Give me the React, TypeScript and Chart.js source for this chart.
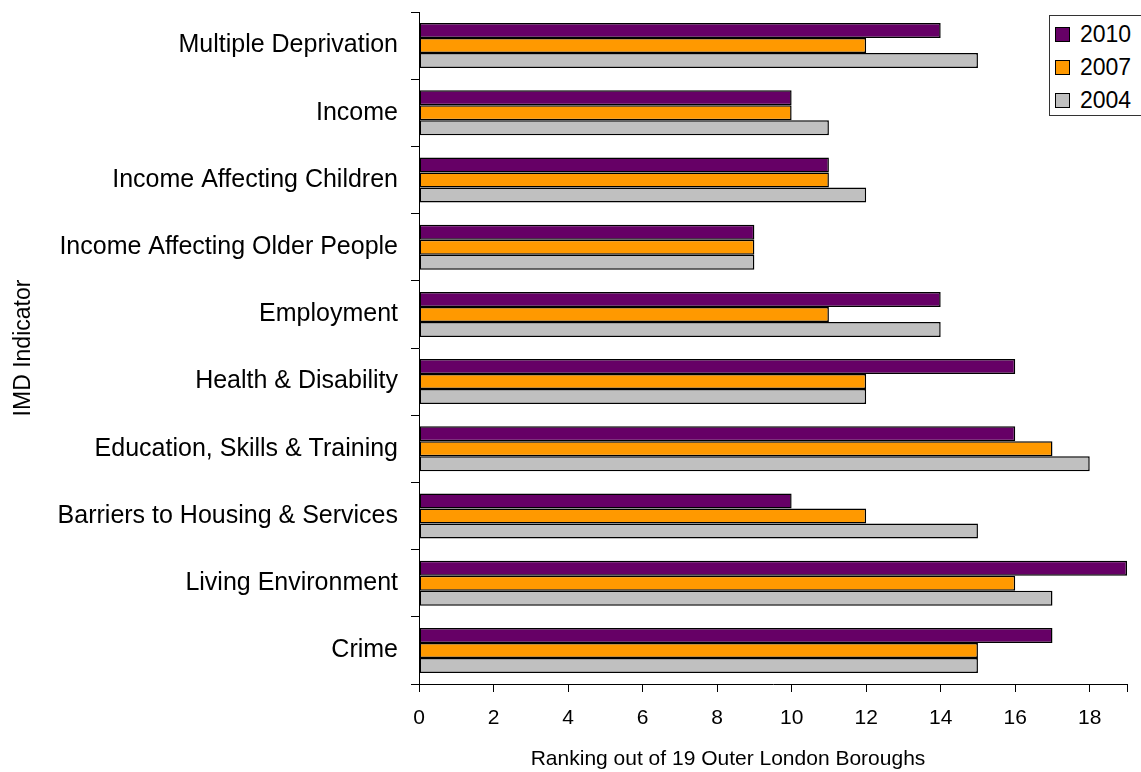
import React, { useEffect, useRef } from "react";
import { Chart, registerables } from "chart.js";

Chart.register(...registerables);

const categories = [
  "Multiple Deprivation",
  "Income",
  "Income Affecting Children",
  "Income Affecting Older People",
  "Employment",
  "Health & Disability",
  "Education, Skills & Training",
  "Barriers to Housing & Services",
  "Living Environment",
  "Crime",
];
const series2010 = [14, 10, 11, 9, 14, 16, 16, 10, 19, 17];
const series2007 = [12, 10, 11, 9, 11, 12, 17, 12, 16, 15];
const series2004 = [15, 11, 12, 9, 14, 12, 18, 15, 17, 15];
const seriesLabels = ["2010", "2007", "2004"];
const seriesColors = ["#660066", "#FF9900", "#C0C0C0"];
const xTitle = "Ranking out of 19 Outer London Boroughs";
const yTitle = "IMD Indicator";

const FONT = "'Liberation Sans', Arial, sans-serif";

const xTitlePlugin = {
  id: "xTitlePlugin",
  afterDraw(chart: any) {
    const ctx = chart.ctx;
    ctx.save();
    ctx.fillStyle = "#000";
    ctx.font = `21px ${FONT}`;
    ctx.textAlign = "center";
    ctx.textBaseline = "middle";
    ctx.fillText(xTitle, 728, 759);
    ctx.restore();
  },
};

export default function App() {
  const ref = useRef<HTMLCanvasElement | null>(null);
  useEffect(() => {
    if (!ref.current) return;
    const values = [series2010, series2007, series2004];
    const chart = new Chart(ref.current, {
      type: "bar",
      data: {
        labels: categories,
        datasets: values.map((v, i) => ({
          label: seriesLabels[i],
          data: v,
          backgroundColor: seriesColors[i],
          borderColor: "#000000",
          borderWidth: 1.5,
          borderSkipped: false,
          categoryPercentage: 0.67,
          barPercentage: 1.0,
        })),
      },
      plugins: [xTitlePlugin],
      options: {
        indexAxis: "y",
        responsive: false,
        animation: false,
        layout: { padding: { left: 0, top: 12, right: 14, bottom: 0 } },
        plugins: { legend: { display: false }, tooltip: { enabled: false } },
        scales: {
          x: {
            min: 0,
            max: 19,
            afterFit: (s: any) => {
              s.height = 88;
              s.paddingLeft = 0;
              s.paddingRight = 0;
            },
            ticks: {
              stepSize: 2,
              color: "#000",
              padding: 14,
              font: { family: FONT, size: 21 },
              callback: (v: any) => (Number(v) <= 18 ? String(v) : ""),
            },
            grid: {
              drawOnChartArea: false,
              tickLength: 8,
              color: "#000",
            },
            border: { color: "#000", width: 1 },
          },
          y: {
            afterFit: (s: any) => {
              s.width = 419;
              s.paddingTop = 0;
              s.paddingBottom = 0;
            },
            ticks: {
              color: "#000",
              padding: 13,
              font: { family: FONT, size: 25 },
            },
            grid: {
              drawOnChartArea: false,
              tickLength: 8,
              color: "#000",
              offset: true,
            },
            border: { color: "#000", width: 1 },
            title: {
              display: true,
              text: yTitle,
              color: "#000",
              font: { family: FONT, size: 23 },
              padding: { top: 10, bottom: 0 },
            },
          },
        },
      },
    });
    return () => chart.destroy();
  }, []);

  return (
    <div
      style={{
        position: "absolute",
        left: 0,
        top: 0,
        width: 1141,
        height: 772,
        overflow: "hidden",
        background: "#fff",
      }}
    >
      <canvas ref={ref} width={1141} height={772} style={{ display: "block" }} />
      <div
        style={{
          position: "absolute",
          left: 1049,
          top: 15,
          width: 110,
          height: 101,
          border: "1px solid #333",
          background: "#fff",
          boxSizing: "border-box",
          fontFamily: FONT,
          fontSize: 23,
          color: "#000",
        }}
      >
        {seriesLabels.map((l, i) => (
          <div
            key={l}
            style={{
              position: "absolute",
              left: 5,
              top: 6 + i * 33,
              height: 24,
              display: "flex",
              alignItems: "center",
            }}
          >
            <span
              style={{
                display: "inline-block",
                width: 13,
                height: 13,
                background: seriesColors[i],
                border: "1px solid #000",
                marginRight: 10,
              }}
            />
            <span style={{ lineHeight: "24px" }}>{l}</span>
          </div>
        ))}
      </div>
    </div>
  );
}
